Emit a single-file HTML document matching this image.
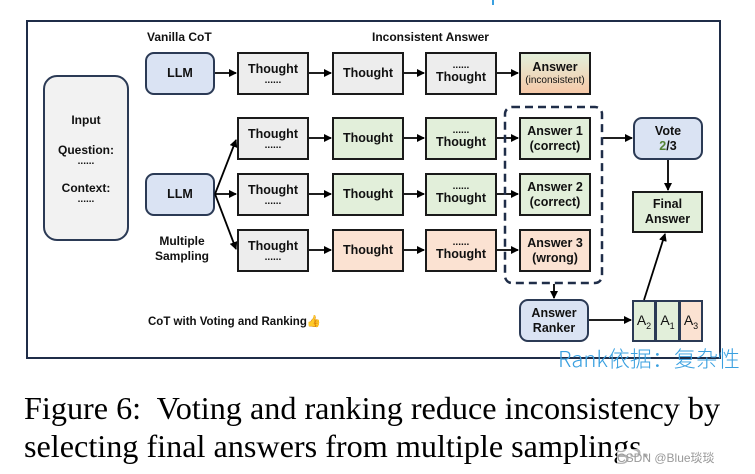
<!DOCTYPE html>
<html><head><meta charset="utf-8"><style>
body{margin:0;background:#fff;width:755px;height:474px;overflow:hidden;position:relative;font-family:"Liberation Sans","Noto Sans CJK SC",sans-serif}
.b{position:absolute;box-sizing:border-box;border:2px solid #1a1a1a;display:flex;flex-direction:column;align-items:center;justify-content:center;font-size:12.5px;font-weight:bold;color:#111;line-height:15px;text-align:center}
.g{background:#ededed}.gr{background:#e2efda}.p{background:#fbe2d2}.bl{background:#dae3f3;border-color:#2b3a55;border-radius:9px}
.l{position:absolute;font-size:12px;font-weight:bold;color:#111}
.d{font-size:10px;line-height:8px}
.s{font-size:9px;position:relative;top:4px}
</style></head><body>
<div style="position:absolute;left:26px;top:20px;width:695px;height:339px;box-sizing:border-box;border:2.5px solid #1f2d48"></div>
<div style="position:absolute;left:492px;top:0;width:2px;height:5px;background:#3aa0e0"></div>
<div class="b" style="left:43px;top:75px;width:86px;height:166px;background:#f2f2f2;border-color:#2b3a55;border-radius:14px;font-weight:bold;font-size:12px;line-height:15px">Input<br><br>Question:<br><span class="d">......</span><br>Context:<br><span class="d">......</span></div>
<div class="l" style="left:147px;top:30px">Vanilla CoT</div>
<div class="l" style="left:372px;top:30px">Inconsistent Answer</div>
<div class="l" style="left:155px;top:234px;text-align:center;line-height:15px">Multiple<br>Sampling</div>
<div class="l" style="left:148px;top:314px;font-size:11.5px">CoT with Voting and Ranking👍</div>
<div class="b bl" style="left:145px;top:52px;width:70px;height:43px">LLM</div>
<div class="b bl" style="left:145px;top:173px;width:70px;height:43px">LLM</div>
<div class="b g" style="left:237px;top:52px;width:72px;height:43px">Thought<span class="d">......</span></div>
<div class="b g" style="left:332px;top:52px;width:72px;height:43px">Thought</div>
<div class="b g" style="left:425px;top:52px;width:72px;height:43px"><span class="d">......</span>Thought</div>
<div class="b" style="left:519px;top:52px;width:72px;height:43px;background:linear-gradient(#e2efda,#f6c9a8)">Answer<span style="font-size:10px;font-weight:normal;line-height:12px">(inconsistent)</span></div>
<div class="b g" style="left:237px;top:117px;width:72px;height:43px">Thought<span class="d">......</span></div>
<div class="b gr" style="left:332px;top:117px;width:72px;height:43px">Thought</div>
<div class="b gr" style="left:425px;top:117px;width:72px;height:43px"><span class="d">......</span>Thought</div>
<div class="b gr" style="left:519px;top:117px;width:72px;height:43px">Answer 1<br>(correct)</div>
<div class="b g" style="left:237px;top:173px;width:72px;height:43px">Thought<span class="d">......</span></div>
<div class="b gr" style="left:332px;top:173px;width:72px;height:43px">Thought</div>
<div class="b gr" style="left:425px;top:173px;width:72px;height:43px"><span class="d">......</span>Thought</div>
<div class="b gr" style="left:519px;top:173px;width:72px;height:43px">Answer 2<br>(correct)</div>
<div class="b g" style="left:237px;top:229px;width:72px;height:43px">Thought<span class="d">......</span></div>
<div class="b p" style="left:332px;top:229px;width:72px;height:43px">Thought</div>
<div class="b p" style="left:425px;top:229px;width:72px;height:43px"><span class="d">......</span>Thought</div>
<div class="b p" style="left:519px;top:229px;width:72px;height:43px">Answer 3<br>(wrong)</div>
<div class="b bl" style="left:633px;top:117px;width:70px;height:43px">Vote<span><span style="color:#548235">2</span>/3</span></div>
<div class="b gr" style="left:632px;top:191px;width:71px;height:42px">Final<br>Answer</div>
<div class="b bl" style="left:519px;top:299px;width:70px;height:43px">Answer<br>Ranker</div>
<div class="b gr" style="left:632px;top:300px;width:24px;height:42px;border-color:#2b3a55;font-weight:normal;font-size:14px"><span>A<span class="s">2</span></span></div>
<div class="b gr" style="left:655px;top:300px;width:25px;height:42px;border-color:#2b3a55;font-weight:normal;font-size:14px"><span>A<span class="s">1</span></span></div>
<div class="b p" style="left:679px;top:300px;width:24px;height:42px;border-color:#2b3a55;font-weight:normal;font-size:14px"><span>A<span class="s">3</span></span></div>
<svg width="755" height="474" style="position:absolute;left:0;top:0">
<defs><marker id="a" markerWidth="8" markerHeight="8" refX="7" refY="4" orient="auto" markerUnits="userSpaceOnUse"><path d="M0,0L8,4L0,8z" fill="#000"/></marker></defs>
<g stroke="#000" stroke-width="1.8" marker-end="url(#a)">
<line x1="215" y1="73" x2="236" y2="73"/><line x1="309" y1="73" x2="331" y2="73"/><line x1="404" y1="73" x2="424" y2="73"/><line x1="497" y1="73" x2="518" y2="73"/>
<line x1="309" y1="138" x2="331" y2="138"/><line x1="404" y1="138" x2="424" y2="138"/><line x1="497" y1="138" x2="518" y2="138"/>
<line x1="309" y1="194" x2="331" y2="194"/><line x1="404" y1="194" x2="424" y2="194"/><line x1="497" y1="194" x2="518" y2="194"/>
<line x1="309" y1="250" x2="331" y2="250"/><line x1="404" y1="250" x2="424" y2="250"/><line x1="497" y1="250" x2="518" y2="250"/>
<line x1="215" y1="194" x2="236" y2="194"/><line x1="215" y1="194" x2="236" y2="140"/><line x1="215" y1="194" x2="236" y2="249"/>
<line x1="603" y1="138" x2="632" y2="138"/><line x1="668" y1="160" x2="668" y2="190"/>
<line x1="554" y1="284" x2="554" y2="298"/><line x1="589" y1="320" x2="631" y2="320"/><line x1="644" y1="300" x2="665" y2="234"/>
</g>
<rect x="505" y="107" width="97" height="176" rx="7" fill="none" stroke="#1f2d48" stroke-width="2.5" stroke-dasharray="8,5"/>
</svg>
<div style="position:absolute;left:558px;top:342px;color:#3aa0e0;font-size:22px;font-family:'Noto Sans CJK SC',sans-serif;font-weight:300">Rank依据：复杂性</div>
<div style="position:absolute;left:24px;top:389px;font-family:'Liberation Serif',serif;font-size:32.2px;line-height:38px;color:#000;white-space:nowrap">Figure 6:&nbsp; Voting and ranking reduce inconsistency by<br>selecting final answers from multiple samplings.</div>
<div style="position:absolute;left:617px;top:449px;font-size:12px;color:#999;background:rgba(255,255,255,.7)">CSDN @Blue琰琰</div>
</body></html>
